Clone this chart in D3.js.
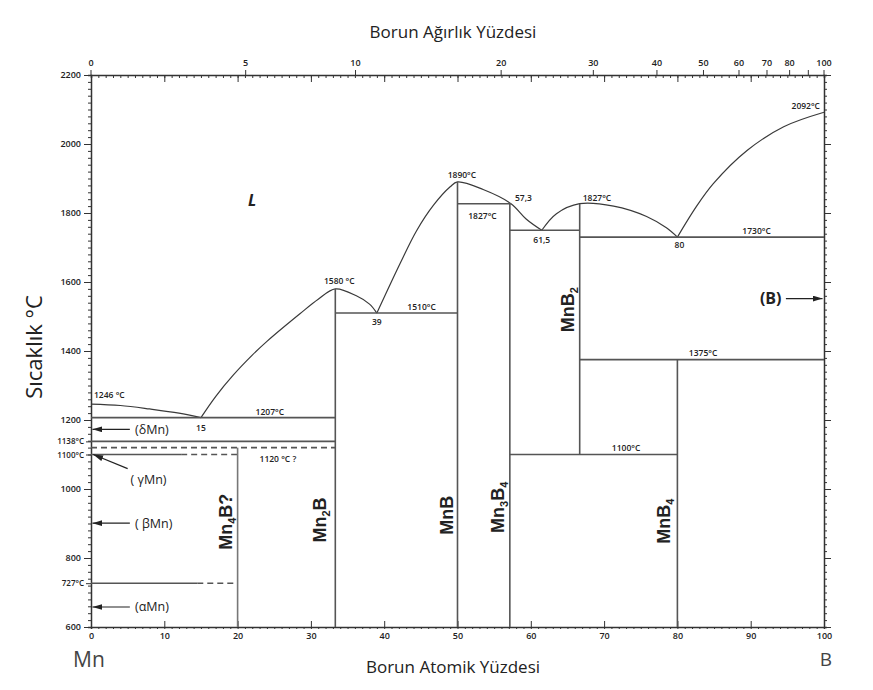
<!DOCTYPE html>
<html>
<head>
<meta charset="utf-8">
<script src="https://cdn.jsdelivr.net/npm/d3@7"></script>
<style>
  body { margin: 0; background: #fff; }
  svg text { font-family: "Open Sans", "DejaVu Sans", sans-serif; fill: #222; }
  .tick-label { font-size: 9px; font-weight: 600; }
  .small { font-size: 8.5px; font-weight: 600; }
  .phase { font-family: "Liberation Sans", Arial, sans-serif; font-weight: 700; font-size: 18px; }
  .title { font-size: 17px; }
</style>
</head>
<body>
<svg id="chart" width="873" height="690"></svg>
<script>
// Mn–B phase diagram. Compositions in atomic % B, temperatures in °C.

// ---- axis ticks ----
const atomicTicks = [0, 10, 20, 30, 40, 50, 60, 70, 80, 90, 100];
const weightTicks = [0, 5, 10, 20, 30, 40, 50, 60, 70, 80, 90, 100];
const weightTickLabels = ["0", "5", "10", "20", "30", "40", "50", "60", "70", "80", "", "100"];
const tempTicks = [600, 800, 1000, 1200, 1400, 1600, 1800, 2000, 2200];
const tempMarkValues = [1138, 1100, 727];
const tempMarkLabels = ["1138°C", "1100°C", "727°C"];

// ---- liquidus branches [at% B, °C] ----
const liquidusMn   = [[0, 1246], [4, 1242], [8, 1232], [12, 1220], [15, 1207]];
const liquidusMn2B = [[15, 1207], [17, 1268], [19.4, 1330], [22, 1388], [24, 1428], [28.5, 1508],
                      [31, 1550], [33.33, 1580], [36.2, 1560], [38, 1536], [39, 1510]];
const liquidusMnB  = [[39, 1510], [42.2, 1655], [44.4, 1748], [46.7, 1822], [49, 1876], [50, 1890],
                      [53.5, 1868], [57.3, 1827], [59.4, 1782], [61.5, 1750]];
const liquidusMnB2 = [[61.5, 1750], [63.5, 1798], [66.67, 1827], [71.3, 1820], [75.8, 1790],
                      [78.5, 1757], [80, 1730]];
const liquidusB    = [[80, 1730], [82.6, 1819], [84.9, 1885], [89.5, 1981], [94.5, 2050],
                      [100, 2092]];

// ---- invariant / transformation lines ----
const isotherms = [
  { from: 0, to: 33.33, t: 1207 },
  { from: 0, to: 33.33, t: 1138 },
  { from: 33.33, to: 50, t: 1510 },
  { from: 50, to: 57.3, t: 1827 },
  { from: 57.14, to: 66.67, t: 1750 },
  { from: 66.67, to: 100, t: 1730 },
  { from: 66.67, to: 100, t: 1375 },
  { from: 57.14, to: 80, t: 1100 },
  { from: 0, to: 12.3, t: 1100 },
  { from: 0, to: 14.5, t: 727 }
];
const uncertainLines = [
  { from: 0, to: 33.33, t: 1120 },
  { from: 12.3, to: 20, t: 1100 },
  { from: 14.5, to: 20, t: 727 }
];

// ---- compounds: composition and stability range ----
const compoundNames = ["Mn4B?", "Mn2B", "MnB", "Mn3B4", "MnB2", "MnB4"];
const compoundX     = [20, 33.33, 50, 57.14, 66.67, 80];
const compoundTLow  = [600, 600, 600, 600, 1100, 600];
const compoundTHigh = [1120, 1580, 1890, 1827, 1827, 1375];
const compoundParts = [
  [["Mn"], ["4", true], ["B?"]],
  [["Mn"], ["2", true], ["B"]],
  [["MnB"]],
  [["Mn"], ["3", true], ["B"], ["4", true]],
  [["MnB"], ["2", true]],
  [["MnB"], ["4", true]]
];

// ---- point annotations ----
const pointLabels = [
  { text: "1246 °C", at: 0, t: 1246 },
  { text: "15", at: 15, t: 1207 },
  { text: "1207°C", at: 24.4, t: 1207 },
  { text: "1120 °C ?", at: 25.5, t: 1120 },
  { text: "1580 °C", at: 33.33, t: 1580 },
  { text: "39", at: 39, t: 1510 },
  { text: "1510°C", at: 45.1, t: 1510 },
  { text: "1890°C", at: 50.6, t: 1890 },
  { text: "1827°C", at: 53.4, t: 1827 },
  { text: "57,3", at: 57.3, t: 1827 },
  { text: "61,5", at: 61.5, t: 1750 },
  { text: "1827°C", at: 66.67, t: 1827 },
  { text: "80", at: 80, t: 1730 },
  { text: "1730°C", at: 90.8, t: 1730 },
  { text: "2092°C", at: 100, t: 2092 },
  { text: "1375°C", at: 83.5, t: 1375 },
  { text: "1100°C", at: 73, t: 1100 }
];

// allotropes of Mn and B, with the temperature their arrow points at
const allotropeNames = ["(δMn)", "( γMn)", "( βMn)", "(αMn)", "(B)"];
const allotropeTemps = [1173, 1100, 901, 658, 1552];

// ---------------------------------------------------------------
const svg = d3.select("#chart");
const x = d3.scaleLinear().domain([0, 100]).range([91, 824]);
const y = d3.scaleLinear().domain([600, 2200]).range([627, 75]);

// weight % B -> atomic % B
const M_B = 10.811, M_Mn = 54.938;
const wtToAt = w => 100 * (w / M_B) / (w / M_B + (100 - w) / M_Mn);

const axisColor = "#333";
const lineColor = "#555";

// arrowhead, tip at the end of the line
svg.append("defs").append("marker")
  .attr("id", "arrow").attr("viewBox", "0 0 10 6")
  .attr("refX", 10).attr("refY", 3)
  .attr("markerWidth", 10).attr("markerHeight", 6)
  .attr("markerUnits", "userSpaceOnUse")
  .attr("orient", "auto")
  .append("path").attr("d", "M0,0 L10,3 L0,6 Z").attr("fill", "#222");

// ---- axes ----
const styleAxis = g => {
  g.select(".domain").attr("stroke", axisColor).attr("stroke-width", 1.5);
  g.selectAll(".tick line").attr("stroke", axisColor);
};
const intFmt = d3.format("d");

// left: minor every 20 °C, major every 200 °C
svg.append("g").attr("transform", `translate(${x(0)},0)`)
  .call(d3.axisLeft(y).tickValues(d3.range(600, 2201, 20)).tickSize(3).tickFormat(""))
  .call(styleAxis);
svg.append("g").attr("transform", `translate(${x(0)},0)`)
  .call(d3.axisLeft(y).tickValues(tempTicks).tickSize(7).tickPadding(3).tickFormat(intFmt))
  .call(styleAxis)
  .call(g => g.select(".domain").remove())
  .call(g => g.selectAll("text").attr("class", "tick-label"));
svg.append("g").attr("transform", `translate(${x(0)},0)`)
  .call(d3.axisLeft(y).tickValues(tempMarkValues).tickSize(5).tickPadding(2)
    .tickFormat((d, i) => tempMarkLabels[i]))
  .call(styleAxis)
  .call(g => g.select(".domain").remove())
  .call(g => g.selectAll("text").attr("class", "small").style("font-size", "8px"));

// right
svg.append("g").attr("transform", `translate(${x(100)},0)`)
  .call(d3.axisRight(y).tickValues(d3.range(600, 2201, 20)).tickSize(3).tickFormat(""))
  .call(styleAxis);
svg.append("g").attr("transform", `translate(${x(100)},0)`)
  .call(d3.axisRight(y).tickValues(tempTicks).tickSize(7).tickFormat(""))
  .call(styleAxis)
  .call(g => g.select(".domain").remove());

// bottom: atomic %
svg.append("g").attr("transform", `translate(0,${y(600)})`)
  .call(d3.axisBottom(x).tickValues(d3.range(0, 101, 1)).tickSize(2).tickFormat(""))
  .call(styleAxis);
svg.append("g").attr("transform", `translate(0,${y(600)})`)
  .call(d3.axisBottom(x).tickValues(atomicTicks).tickSizeInner(-6).tickSizeOuter(0).tickPadding(6)
    .tickFormat(intFmt))
  .call(styleAxis)
  .call(g => g.select(".domain").remove())
  .call(g => g.selectAll("text").attr("class", "tick-label"));

// top: atomic % ticks inward, weight % ticks outward
svg.append("g").attr("transform", `translate(0,${y(2200)})`)
  .call(d3.axisTop(x).tickValues(d3.range(0, 101, 1)).tickSize(-3).tickFormat(""))
  .call(styleAxis);
svg.append("g").attr("transform", `translate(0,${y(2200)})`)
  .call(d3.axisTop(x).tickValues(atomicTicks).tickSize(-7).tickFormat(""))
  .call(styleAxis)
  .call(g => g.select(".domain").remove());
const wt = svg.append("g").attr("transform", `translate(0,${y(2200)})`);
wt.selectAll("line").data(weightTicks).join("line")
  .attr("x1", d => x(wtToAt(d))).attr("x2", d => x(wtToAt(d)))
  .attr("y1", 0).attr("y2", -5).attr("stroke", axisColor);
wt.selectAll("text").data(weightTicks).join("text")
  .attr("class", "tick-label")
  .attr("x", d => x(wtToAt(d))).attr("y", -9)
  .attr("text-anchor", "middle")
  .text((d, i) => weightTickLabels[i]);

// ---- phase boundaries ----
const line = d3.line().x(d => x(d[0])).y(d => y(d[1])).curve(d3.curveCatmullRom.alpha(0.5));
[liquidusMn, liquidusMn2B, liquidusMnB, liquidusMnB2, liquidusB].forEach(pts => {
  svg.append("path").attr("d", line(pts))
    .attr("fill", "none").attr("stroke", "#3a3a3a").attr("stroke-width", 1.2);
});

svg.append("g").selectAll("line").data(isotherms).join("line")
  .attr("x1", d => x(d.from)).attr("x2", d => x(d.to))
  .attr("y1", d => y(d.t)).attr("y2", d => y(d.t))
  .attr("stroke", lineColor).attr("stroke-width", 1.6);

svg.append("g").selectAll("line").data(uncertainLines).join("line")
  .attr("x1", d => x(d.from)).attr("x2", d => x(d.to))
  .attr("y1", d => y(d.t)).attr("y2", d => y(d.t))
  .attr("stroke", lineColor).attr("stroke-width", 1.6)
  .attr("stroke-dasharray", "6,4");

svg.append("g").selectAll("line").data(compoundX).join("line")
  .attr("x1", d => x(d)).attr("x2", d => x(d))
  .attr("y1", (d, i) => y(compoundTLow[i])).attr("y2", (d, i) => y(compoundTHigh[i]))
  .attr("stroke", (d, i) => i === 0 ? "#777" : lineColor)
  .attr("stroke-width", 1.6);

// ---- compound labels (rotated, with subscripts) ----
const phaseLabelOffset = [-12, -16, -11, -12, -12, -14];
const phaseLabelTemp   = [905, 910, 924, 947, 1520, 907];
compoundNames.forEach((name, i) => {
  const t = svg.append("text").attr("class", "phase")
    .attr("transform", `translate(${x(compoundX[i]) + phaseLabelOffset[i]},${y(phaseLabelTemp[i])}) rotate(-90)`)
    .attr("text-anchor", "middle").attr("dy", "0.36em");
  let shifted = false;
  compoundParts[i].forEach(([s, sub]) => {
    const ts = t.append("tspan").text(s);
    if (sub) { ts.style("font-size", "11px").attr("dy", 4); shifted = true; }
    else if (shifted) { ts.attr("dy", -4); shifted = false; }
  });
});

// ---- point annotations ----
const labelPlacement = {
  "1246 °C": [3, -6, "start"], "15": [0, 13, "middle"], "1207°C": [0, -3, "middle"],
  "1120 °C ?": [0, 14, "middle"], "1580 °C": [4, -5, "middle"], "39": [0, 12, "middle"],
  "1510°C": [0, -3, "middle"], "1890°C": [0, -4, "middle"], "57,3": [4, -3, "start"],
  "61,5": [0, 13, "middle"], "80": [2, 11, "middle"], "1730°C": [0, -3, "middle"],
  "2092°C": [-4, -3, "end"], "1375°C": [0, -4, "middle"], "1100°C": [0, -4, "middle"]
};
pointLabels.forEach(d => {
  let p = labelPlacement[d.text];
  if (d.text === "1827°C") p = d.at < 60 ? [0, 15, "middle"] : [3, -3, "start"];
  svg.append("text").attr("class", "small")
    .attr("x", x(d.at) + p[0]).attr("y", y(d.t) + p[1])
    .attr("text-anchor", p[2]).text(d.text);
});

// liquid region
svg.append("text").attr("x", x(22)).attr("y", y(1820))
  .style("font-size", "16px").style("font-weight", "700").style("font-style", "italic")
  .attr("text-anchor", "middle").text("L");

// ---- allotrope arrows ----
allotropeNames.forEach((name, i) => {
  const t = allotropeTemps[i];
  const g = svg.append("g");
  if (i === 4) {
    g.append("line").attr("x1", x(94.8)).attr("x2", x(99.8))
      .attr("y1", y(t)).attr("y2", y(t))
      .attr("stroke", "#222").attr("stroke-width", 1.2).attr("marker-end", "url(#arrow)");
    g.append("text").attr("x", x(94.2)).attr("y", y(t)).attr("dy", "0.35em")
      .attr("text-anchor", "end")
      .style("font-size", "16px").style("font-weight", "700").text(name);
  } else if (i === 1) {
    g.append("line").attr("x1", x(5)).attr("x2", x(0.3))
      .attr("y1", y(1059)).attr("y2", y(t))
      .attr("stroke", "#222").attr("stroke-width", 1.2).attr("marker-end", "url(#arrow)");
    g.append("text").attr("x", x(5.4)).attr("y", y(1047)).attr("dy", "0.9em")
      .style("font-size", "12.5px").text(name);
  } else {
    g.append("line").attr("x1", x(5.3)).attr("x2", x(0.2))
      .attr("y1", y(t)).attr("y2", y(t))
      .attr("stroke", "#222").attr("stroke-width", 1.2).attr("marker-end", "url(#arrow)");
    g.append("text").attr("x", x(6)).attr("y", y(t)).attr("dy", "0.35em")
      .style("font-size", "12.5px").text(name);
  }
});

// ---- titles ----
svg.append("text").attr("class", "title").attr("x", 453).attr("y", 38)
  .attr("text-anchor", "middle").text("Borun Ağırlık Yüzdesi");
svg.append("text").attr("class", "title").attr("x", 453).attr("y", 673)
  .attr("text-anchor", "middle").text("Borun Atomik Yüzdesi");
svg.append("text").attr("transform", "translate(42,347) rotate(-90)")
  .attr("text-anchor", "middle").style("font-size", "22px").text("Sıcaklık °C");
svg.append("text").attr("x", x(0) - 2).attr("y", 667).attr("text-anchor", "middle")
  .style("font-size", "21px").style("fill", "#444").text("Mn");
svg.append("text").attr("x", x(100) + 2).attr("y", 666).attr("text-anchor", "middle")
  .style("font-size", "19px").style("fill", "#444").text("B");
</script>
</body>
</html>
